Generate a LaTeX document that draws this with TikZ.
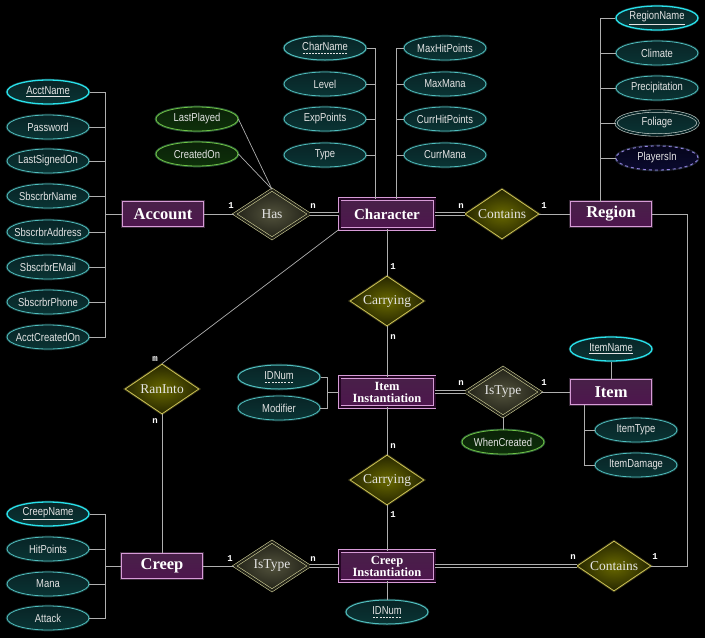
\documentclass[tikz,border=0pt]{standalone}
\usepackage{fontspec}
\setmainfont{Liberation Serif}
\newfontfamily\attrfont[FakeStretch=0.82]{Liberation Sans}
\newfontfamily\cardfont{Liberation Mono}
\usepackage{xcolor}
\usetikzlibrary{shapes.geometric}
\usetikzlibrary{positioning}

% dashed underline for partial keys
\newcommand\dashkey[1]{\setbox0=\hbox{#1}\leavevmode\rlap{\copy0}%
\raisebox{-2.4pt}{\hbox to \wd0{\xleaders\hbox to 3pt{\hss\rule{2pt}{0.5pt}\hss}\hfill}}}

\definecolor{attrtop}{RGB}{8,36,38}
\definecolor{attrmid}{RGB}{20,78,78}
\definecolor{attrbot}{RGB}{10,52,52}
\definecolor{attrline}{RGB}{80,190,190}
\definecolor{keyline}{RGB}{40,225,235}
\definecolor{wtop}{RGB}{10,34,8}
\definecolor{wmid}{RGB}{26,70,18}
\definecolor{wbot}{RGB}{14,48,10}
\definecolor{wline}{RGB}{110,195,70}
\definecolor{multiline}{RGB}{200,210,205}
\definecolor{dertop}{RGB}{5,5,28}
\definecolor{dermid}{RGB}{22,22,72}
\definecolor{derbot}{RGB}{10,10,46}
\definecolor{derline}{RGB}{150,130,225}
\definecolor{enttop}{RGB}{72,32,72}
\definecolor{entmid}{RGB}{36,6,36}
\definecolor{entbot}{RGB}{78,22,78}
\definecolor{entline}{RGB}{215,155,215}
\definecolor{relin}{RGB}{105,105,0}
\definecolor{relout}{RGB}{38,38,0}
\definecolor{relline}{RGB}{205,195,85}
\definecolor{idin}{RGB}{82,82,60}
\definecolor{idout}{RGB}{34,34,24}
\definecolor{idline}{RGB}{205,205,150}
\definecolor{linkc}{RGB}{175,175,175}
\definecolor{txt}{RGB}{228,228,228}

\tikzset{attr/.style={ellipse, draw=attrline, top color=attrtop, middle color=attrmid,
bottom color=attrbot, line width=0.8pt, minimum width=82pt, minimum height=24pt,
inner xsep=-8pt, inner ysep=0pt, text=txt, font=\attrfont\fontsize{11.5}{12}\selectfont,
preaction={draw=attrline, line width=2.6pt, draw opacity=0.25}},
keyattr/.style={attr, draw=keyline, line width=1.3pt},
relattr/.style={attr, draw=wline, top color=wtop, middle color=wmid, bottom color=wbot,
preaction={draw=wline, line width=2.6pt, draw opacity=0.25}},
multiattr/.style={ellipse, draw=multiline, top color=attrtop, middle color=attrmid,
bottom color=attrbot, double=attrtop, double distance=1.8pt, line width=0.6pt,
minimum width=82pt, minimum height=24pt, inner xsep=-8pt, inner ysep=0pt, text=txt,
font=\attrfont\fontsize{11.5}{12}\selectfont},
derattr/.style={attr, draw=derline, top color=dertop, middle color=dermid,
bottom color=derbot, dashed,
preaction={draw=derline, line width=2.6pt, draw opacity=0.2, solid}},
entity/.style={rectangle, draw=entline, top color=enttop, middle color=entmid,
bottom color=entbot, line width=0.8pt, inner sep=0pt, text=white,
minimum width=81pt, minimum height=25pt, font=\fontsize{16.5}{18}\selectfont\bfseries,
preaction={draw=entline, line width=2.6pt, draw opacity=0.25}},
wentity/.style={rectangle, draw=entline, top color=enttop, middle color=entmid,
bottom color=entbot, double=entmid, double distance=2pt, line width=0.6pt,
inner sep=0pt, text=white, minimum width=95pt, minimum height=30pt, align=center},
bigname/.style={font=\fontsize{15}{17}\selectfont\bfseries},
smallname/.style={font=\fontsize{12.5}{12}\selectfont\bfseries},
rel/.style={diamond, aspect=1.5, draw=relline, inner color=relin, outer color=relout,
line width=0.8pt, inner sep=0pt, minimum width=74pt, minimum height=50pt, text=txt,
font=\fontsize{13.5}{15}\selectfont,
preaction={draw=relline, line width=2.6pt, draw opacity=0.25}},
idrel/.style={diamond, aspect=1.5, draw=idline, inner color=idin, outer color=idout,
double=idout, double distance=2pt, line width=0.6pt, inner sep=0pt, minimum width=75pt,
minimum height=49pt, text=txt, font=\fontsize{13.5}{15}\selectfont},
link/.style={draw=linkc, line width=0.7pt},
total/.style={draw=linkc, line width=0.9pt, double=black, double distance=1.8pt},
card/.style={text=white, inner sep=0pt, font=\cardfont\bfseries\fontsize{9}{9}\selectfont}}

\begin{document}
\begin{tikzpicture}[x=1pt, y=-1pt]
\fill[black] (0,0) rectangle (705,638);

% Account
\node[entity] (account) at (163,214) {Account};
\node[keyattr] (acctname) at (48,92) {\underline{AcctName}};
\node[attr] (password) at (48,127) {Password};
\node[attr] (lastsignedon) at (48,161) {LastSignedOn};
\node[attr] (sbscrbrname) at (48,196) {SbscrbrName};
\node[attr] (sbscrbraddress) at (48,232) {SbscrbrAddress};
\node[attr] (sbscrbremail) at (48,267) {SbscrbrEMail};
\node[attr] (sbscrbrphone) at (48,302) {SbscrbrPhone};
\node[attr] (acctcreatedon) at (48,337) {AcctCreatedOn};
\coordinate (acctspine) at (105,214);

% Has
\node[idrel] (has) at (272,214) {Has};
\node[relattr] (lastplayed) at (197,119) {LastPlayed};
\node[relattr] (createdon) at (197,154) {CreatedOn};

% Character
\node[wentity, bigname] (character) at (387,214) {Character};
\node[keyattr, draw=attrline, line width=1pt] (charname) at (325,48) {\dashkey{CharName}};
\node[attr] (level) at (325,84) {Level};
\node[attr] (exppoints) at (325,119) {ExpPoints};
\node[attr] (type) at (325,155) {Type};
\node[attr] (maxhitpoints) at (445,48) {MaxHitPoints};
\node[attr] (maxmana) at (445,84) {MaxMana};
\node[attr] (currhitpoints) at (445,119) {CurrHitPoints};
\node[attr] (currmana) at (445,155) {CurrMana};
\coordinate (charleft) at (375,199);
\coordinate (charright) at (396,199);

% Region
\node[rel] (containsreg) at (502,214) {Contains};
\node[entity] (region) at (611,214) {Region};
\node[keyattr] (regionname) at (657,18) {\underline{RegionName}};
\node[attr] (climate) at (657,53) {Climate};
\node[attr] (precipitation) at (657,88) {Precipitation};
\node[multiattr] (foliage) at (657,123) {Foliage};
\node[derattr] (playersin) at (657,158) {PlayersIn};
\coordinate (regspine) at (600,202);
\coordinate (regturn) at (687,214);

% Item Instantiation
\node[rel] (carryingitem) at (387,301) {Carrying};
\node[wentity, smallname] (iteminst) at (387,392) {Item\\Instantiation};
\node[keyattr, draw=attrline, line width=1pt] (itemidnum) at (279,377) {\dashkey{IDNum}};
\node[attr] (modifier) at (279,408) {Modifier};
\coordinate (iispine) at (327,392);

% Item
\node[idrel] (istypeitem) at (503,392) {IsType};
\node[relattr] (whencreated) at (503,442) {WhenCreated};
\node[entity] (item) at (611,392) {Item};
\node[keyattr] (itemname) at (611,349) {\underline{ItemName}};
\node[attr] (itemtype) at (636,430) {ItemType};
\node[attr] (itemdamage) at (636,465) {ItemDamage};
\coordinate (itemspine) at (584,405);

% RanInto
\node[rel] (raninto) at (162,389) {RanInto};

% Creep
\node[entity] (creep) at (162,566) {Creep};
\node[keyattr] (creepname) at (48,514) {\underline{CreepName}};
\node[attr] (hitpoints) at (48,549) {HitPoints};
\node[attr] (mana) at (48,584) {Mana};
\node[attr] (attack) at (48,618) {Attack};
\coordinate (creepspine) at (105,566);

% Creep Instantiation
\node[rel] (carryingcreep) at (387,480) {Carrying};
\node[idrel] (istypecreep) at (272,566) {IsType};
\node[wentity, smallname] (creepinst) at (387,566) {Creep\\Instantiation};
\node[keyattr, draw=attrline, line width=1pt] (creepidnum) at (387,612) {\dashkey{IDNum}};
\node[rel] (containscreep) at (614,566) {Contains};

% attribute links
\draw[link] (account.west) -- (acctspine);
\foreach \a in {acctname,password,lastsignedon,sbscrbrname,sbscrbraddress,sbscrbremail,sbscrbrphone,acctcreatedon}
  \draw[link] (\a.east) -| (acctspine);
\draw[link] (lastplayed.east) -- (has.north);
\draw[link] (createdon.east) -- (has.north);
\foreach \a in {charname,level,exppoints,type}
  \draw[link] (\a.east) -| (charleft);
\foreach \a in {maxhitpoints,maxmana,currhitpoints,currmana}
  \draw[link] (\a.west) -| (charright);
\foreach \a in {regionname,climate,precipitation,foliage,playersin}
  \draw[link] (\a.west) -| (regspine);
\draw[link] (iteminst.west) -- (iispine);
\foreach \a in {itemidnum,modifier}
  \draw[link] (\a.east) -| (iispine);
\draw[link] (istypeitem.south) -- (whencreated.north);
\draw[link] (item.north) -- (itemname.south);
\foreach \a in {itemtype,itemdamage}
  \draw[link] (\a.west) -| (itemspine);
\draw[link] (creep.west) -- (creepspine);
\foreach \a in {creepname,hitpoints,mana,attack}
  \draw[link] (\a.east) -| (creepspine);
\draw[link] (creepinst.south) -- (creepidnum.north);

% relationship links
\draw[link] (account.east) -- (has.west);
\draw[total] (has.east) -- (character.west);
\draw[total] (character.east) -- (containsreg.west);
\draw[link] (containsreg.east) -- (region.west);
\draw[link] (character.south) -- (carryingitem.north);
\draw[link] (carryingitem.south) -- (iteminst.north);
\draw[total] (iteminst.east) -- (istypeitem.west);
\draw[link] (istypeitem.east) -- (item.west);
\draw[link] (iteminst.south) -- (carryingcreep.north);
\draw[link] (carryingcreep.south) -- (creepinst.north);
\draw[link] (character.south west) -- (raninto.north);
\draw[link] (raninto.south) -- (creep.north);
\draw[link] (creep.east) -- (istypecreep.west);
\draw[total] (istypecreep.east) -- (creepinst.west);
\draw[total] (creepinst.east) -- (containscreep.west);
\draw[link] (region.east) -- (regturn) |- (containscreep.east);

% cardinalities
\node[card] (k1) at (231,206) {1};
\node[card] (k2) at (313,206) {n};
\node[card] (k3) at (461,206) {n};
\node[card] (k4) at (544,206) {1};
\node[card] (k5) at (393,267) {1};
\node[card] (k6) at (393,337) {n};
\node[card] (k7) at (461,383) {n};
\node[card] (k8) at (544,383) {1};
\node[card] (k9) at (155,359) {m};
\node[card] (k10) at (155,421) {n};
\node[card] (k11) at (393,446) {n};
\node[card] (k12) at (393,515) {1};
\node[card] (k13) at (230,559) {1};
\node[card] (k14) at (313,559) {n};
\node[card] (k15) at (573,557) {n};
\node[card] (k16) at (655,557) {1};
\end{tikzpicture}
\end{document}
